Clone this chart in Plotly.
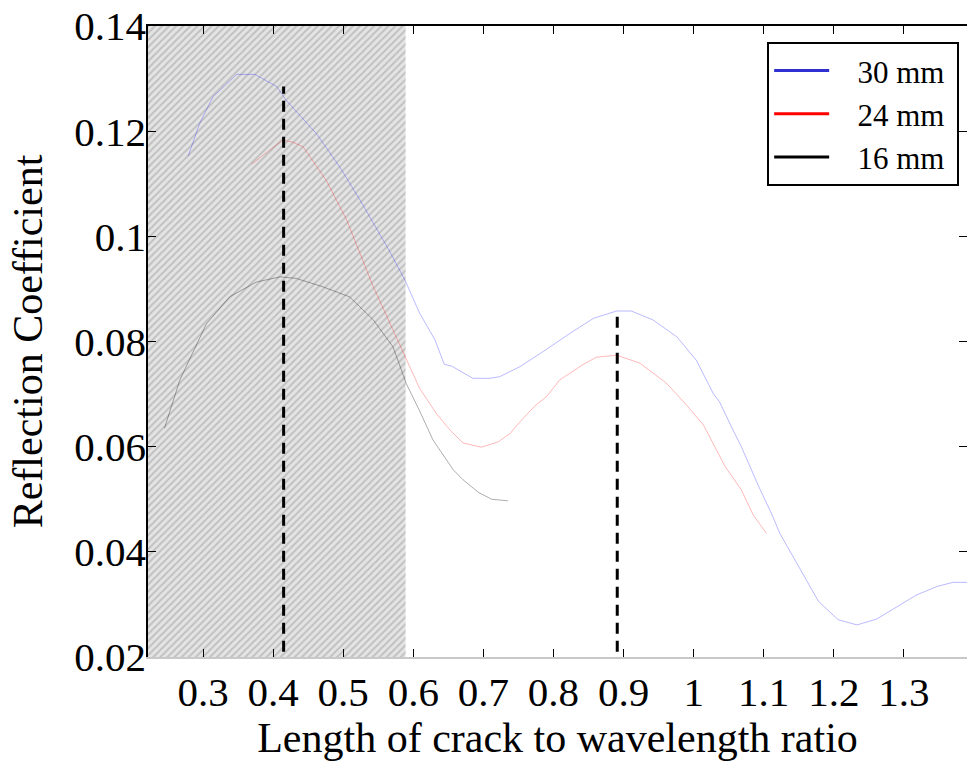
import plotly.graph_objects as go

# ---- data ----
blue_x = [0.279, 0.295, 0.314, 0.348, 0.374, 0.405, 0.419, 0.462, 0.495, 0.524, 0.564, 0.588,
          0.609, 0.631, 0.644, 0.655, 0.685, 0.709, 0.723, 0.752, 0.790, 0.823, 0.857, 0.890,
          0.911, 0.942, 0.976, 1.004, 1.028, 1.037, 1.056, 1.068, 1.095, 1.111, 1.123, 1.152,
          1.178, 1.206, 1.233, 1.261, 1.294, 1.318, 1.347, 1.370, 1.392]
blue_y = [0.1153, 0.1214, 0.1265, 0.1308, 0.1308, 0.1285, 0.1258, 0.1195, 0.1132, 0.1069, 0.0977, 0.0917,
          0.0854, 0.0803, 0.0757, 0.0753, 0.0730, 0.0730, 0.0733, 0.0752, 0.0785, 0.0815, 0.0844, 0.0858,
          0.0858, 0.0841, 0.0809, 0.0764, 0.0701, 0.0685, 0.0632, 0.0600, 0.0518, 0.0473, 0.0435, 0.0366,
          0.0306, 0.0271, 0.0261, 0.0272, 0.0299, 0.0318, 0.0334, 0.0342, 0.0342]

red_x = [0.369, 0.414, 0.428, 0.443, 0.476, 0.505, 0.543, 0.571, 0.588, 0.609, 0.633, 0.652,
         0.671, 0.697, 0.721, 0.738, 0.752, 0.773, 0.790, 0.809, 0.842, 0.861, 0.890, 0.923,
         0.961, 0.990, 1.014, 1.045, 1.068, 1.085, 1.104]
red_y = [0.1137, 0.1183, 0.1179, 0.1170, 0.1106, 0.1031, 0.0904, 0.0821, 0.0774, 0.0711, 0.0663, 0.0632,
         0.0607, 0.0599, 0.0609, 0.0625, 0.0647, 0.0677, 0.0695, 0.0727, 0.0756, 0.0770, 0.0774, 0.0759,
         0.0721, 0.0679, 0.0641, 0.0562, 0.0518, 0.0470, 0.0435]

black_x = [0.245, 0.267, 0.305, 0.338, 0.376, 0.410, 0.433, 0.471, 0.509, 0.543, 0.571, 0.590,
           0.609, 0.628, 0.657, 0.671, 0.693, 0.712, 0.735]
black_y = [0.0635, 0.0727, 0.0834, 0.0885, 0.0913, 0.0923, 0.0920, 0.0904, 0.0885, 0.0841, 0.0790, 0.0720,
           0.0668, 0.0613, 0.0556, 0.0537, 0.0513, 0.0500, 0.0497]

series_names = ["30 mm", "24 mm", "16 mm"]

# dashed markers of the peaks
peak_x = [0.415, 0.891]
peak_top = [0.1285, 0.086]
peak_bottom = 0.021

# shaded region
shade_x = [0.2215, 0.589]

x_range = [0.2215, 1.39]
y_range = [0.02, 0.14]
x_ticks = [0.3, 0.4, 0.5, 0.6, 0.7, 0.8, 0.9, 1.0, 1.1, 1.2, 1.3]
x_ticktext = ["0.3", "0.4", "0.5", "0.6", "0.7", "0.8", "0.9", "1", "1.1", "1.2", "1.3"]
y_ticks = [0.02, 0.04, 0.06, 0.08, 0.10, 0.12, 0.14]
y_ticktext = ["0.02", "0.04", "0.06", "0.08", "0.1", "0.12", "0.14"]

FONT = "Liberation Serif, Times New Roman, serif"
NB = "\u00a0"

fig = go.Figure()

# hatched band
fig.add_trace(go.Scatter(
    x=[shade_x[0], shade_x[1], shade_x[1], shade_x[0], shade_x[0]],
    y=[y_range[0], y_range[0], y_range[1], y_range[1], y_range[0]],
    mode="none", fill="toself",
    fillpattern=dict(shape="/", bgcolor="#e4e4e4", fgcolor="#9c9c9c", size=5, solidity=0.4),
    showlegend=False, hoverinfo="skip"))

# faint data lines
line_cols = ["rgba(40,40,255,0.32)", "rgba(255,0,0,0.28)", "rgba(0,0,0,0.32)"]
for xs, ys, col in zip([blue_x, red_x, black_x], [blue_y, red_y, black_y], line_cols):
    fig.add_trace(go.Scatter(x=xs, y=ys, mode="lines", line=dict(color=col, width=1),
                             showlegend=False, hoverinfo="skip"))

# dashed vertical lines
for px, pt in zip(peak_x, peak_top):
    fig.add_trace(go.Scatter(x=[px, px], y=[peak_bottom, pt], mode="lines",
                             line=dict(color="black", width=3, dash="11px,7px"),
                             showlegend=False, hoverinfo="skip", xaxis="x2"))

# legend entries
leg_cols = ["#3030d0", "#ff0000", "#000000"]
for name, col in zip(series_names, leg_cols):
    fig.add_trace(go.Scatter(x=[None], y=[None], mode="lines",
                             name=NB * 3 + name + NB,
                             line=dict(color=col, width=3)))

fig.update_layout(
    width=967, height=782,
    margin=dict(l=148, r=0, t=26, b=125, autoexpand=False),
    paper_bgcolor="white", plot_bgcolor="white",
    font=dict(family=FONT, color="black"),
    showlegend=True,
    legend=dict(x=0.756, y=0.975, xanchor="left", yanchor="top",
                bgcolor="white", bordercolor="black", borderwidth=2,
                font=dict(family=FONT, size=31, color="black"),
                itemwidth=55, tracegroupgap=0),
    xaxis=dict(range=x_range, tickvals=x_ticks, ticktext=x_ticktext,
               ticks="inside", ticklen=8, tickcolor="black", tickwidth=1,
               showline=True, linecolor="#c8c8c8", linewidth=1.5,
               showgrid=False, zeroline=False, automargin=False,
               tickfont=dict(family=FONT, size=41, color="black"),
               ticklabelstandoff=-2,
               title=dict(text="Length of crack to wavelength ratio",
                          font=dict(family=FONT, size=42, color="black"), standoff=3)),
    xaxis2=dict(overlaying="x", matches="x", side="top", range=x_range,
                tickvals=x_ticks, ticks="inside", ticklen=8, tickcolor="black",
                showticklabels=False, showline=True, linecolor="black", linewidth=1.5,
                showgrid=False, zeroline=False, automargin=False),
    yaxis=dict(range=y_range, tickvals=y_ticks, ticktext=y_ticktext,
               ticks="inside", ticklen=8, tickcolor="black", tickwidth=1,
               showline=True, linecolor="black", linewidth=1.5, mirror="ticks",
               showgrid=False, zeroline=False, automargin=False,
               tickfont=dict(family=FONT, size=41, color="black"),
               ticklabelstandoff=-8,
               title=dict(text="Reflection Coefficient",
                          font=dict(family=FONT, size=42, color="black"), standoff=19)),
)

fig.write_html(
    "out.html",
    config={"displayModeBar": False},
    post_script="document.body.style.margin='0';document.body.style.overflow='hidden';",
)
